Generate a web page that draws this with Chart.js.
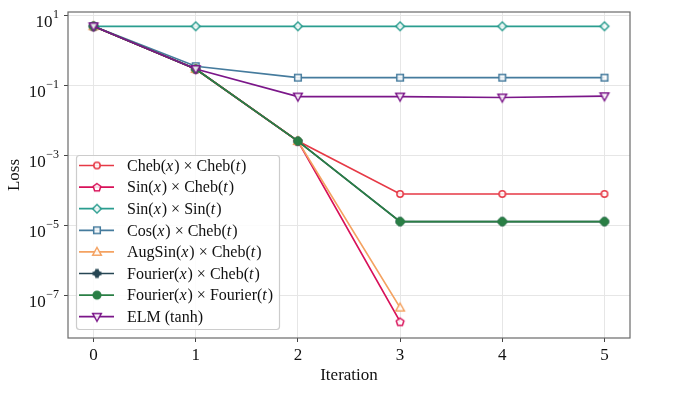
<!DOCTYPE html>
<html>
<head>
<meta charset="utf-8">
<script src="https://cdn.jsdelivr.net/npm/chart.js@4.4.1/dist/chart.umd.min.js"></script>
<style>
  html, body { margin: 0; padding: 0; background: #fff; }
  #wrap { width: 696px; height: 420px; }
</style>
</head>
<body>
<div id="wrap"><canvas id="lossChart" width="696" height="420"></canvas></div>
<script>
// iterations on the x axis
const iterations = [0, 1, 2, 3, 4, 5];
const yTickValues = [1e1, 1e-1, 1e-3, 1e-5, 1e-7];

// loss per iteration
const chebCheb = [5, 0.30, 2.6e-3, 8.0e-5, 8.0e-5, 8.0e-5];
const sinCheb = [5, 0.30, 2.6e-3, 1.8e-8];
const sinSin = [5, 5, 5, 5, 5, 5];
const cosCheb = [5, 0.36, 0.17, 0.17, 0.17, 0.17];
const augSinCheb = [5, 0.30, 2.6e-3, 4.5e-8];
const fourierCheb = [5, 0.30, 2.6e-3, 1.3e-5, 1.3e-5, 1.3e-5];
const fourierFourier = [5, 0.30, 2.6e-3, 1.3e-5, 1.3e-5, 1.3e-5];
const elmTanh = [5, 0.30, 0.049, 0.049, 0.046, 0.050];

const seriesNames = [
    'Cheb(x) × Cheb(t)',
    'Sin(x) × Cheb(t)',
    'Sin(x) × Sin(t)',
    'Cos(x) × Cheb(t)',
    'AugSin(x) × Cheb(t)',
    'Fourier(x) × Cheb(t)',
    'Fourier(x) × Fourier(t)',
    'ELM (tanh)'
];
const seriesData = [chebCheb, sinCheb, sinSin, cosCheb, augSinCheb, fourierCheb, fourierFourier, elmTanh];
const seriesColors = ['#e63946', '#d81159', '#2a9d8f', '#457b9d', '#f4a261', '#264653', '#2a7f45', '#7b1689'];
const seriesShapes = ['circle', 'pentagon', 'diamond', 'square', 'triangle', 'plus', 'dot', 'triangleDown'];

const serif = '"Liberation Serif", "DejaVu Serif", serif';

// small canvases used as point markers (matplotlib-like shapes)
function makeMarker(shape, color) {
    const c = document.createElement('canvas');
    c.width = 14; c.height = 14;
    const g = c.getContext('2d');
    const cx = 7, cy = 7;
    g.strokeStyle = color;
    g.lineWidth = 1.5;
    g.fillStyle = 'rgba(255,255,255,0.85)';
    g.beginPath();
    if (shape === 'circle') {
        g.arc(cx, cy, 3.2, 0, Math.PI * 2);
    } else if (shape === 'pentagon') {
        for (let i = 0; i < 5; i++) {
            const a = -Math.PI / 2 + i * 2 * Math.PI / 5;
            const px = cx + 4 * Math.cos(a), py = cy + 0.5 + 4 * Math.sin(a);
            if (i === 0) g.moveTo(px, py); else g.lineTo(px, py);
        }
        g.closePath();
    } else if (shape === 'diamond') {
        g.moveTo(cx, cy - 4.3); g.lineTo(cx + 4.3, cy); g.lineTo(cx, cy + 4.3); g.lineTo(cx - 4.3, cy);
        g.closePath();
    } else if (shape === 'square') {
        g.rect(cx - 3.3, cy - 3.3, 6.6, 6.6);
    } else if (shape === 'triangle') {
        g.moveTo(cx, cy - 4.5); g.lineTo(cx + 4.3, cy + 3.2); g.lineTo(cx - 4.3, cy + 3.2);
        g.closePath();
    } else if (shape === 'triangleDown') {
        g.moveTo(cx, cy + 4.5); g.lineTo(cx + 4.3, cy - 3.2); g.lineTo(cx - 4.3, cy - 3.2);
        g.closePath();
    } else if (shape === 'plus') {
        g.fillStyle = color;
        g.rect(cx - 1.8, cy - 4.5, 3.6, 9);
        g.rect(cx - 4.5, cy - 1.8, 9, 3.6);
        g.fill();
        g.beginPath();
        g.arc(cx, cy, 3.3, 0, Math.PI * 2);
    } else if (shape === 'dot') {
        g.fillStyle = color;
        g.arc(cx, cy, 3.8, 0, Math.PI * 2);
    }
    g.fill();
    if (shape !== 'plus') g.stroke();
    return c;
}

const markers = seriesShapes.map((s, i) => makeMarker(s, seriesColors[i]));

const datasets = seriesNames.map((name, i) => ({
    label: name,
    data: seriesData[i].map((v, k) => ({ x: iterations[k], y: v })),
    borderColor: seriesColors[i],
    backgroundColor: seriesColors[i],
    borderWidth: 1.7,
    pointStyle: markers[i],
    pointRadius: 4,
    tension: 0,
    order: seriesNames.length - i
}));

// y tick labels as 10 with superscript exponent
const logLabels = {
    id: 'logLabels',
    afterDraw(chart) {
        const ctx = chart.ctx;
        const y = chart.scales.y;
        ctx.save();
        ctx.fillStyle = '#111';
        ctx.textBaseline = 'alphabetic';
        yTickValues.forEach(v => {
            const py = y.getPixelForValue(v);
            const exp = String(Math.round(Math.log10(v))).replace('-', '\u2212');
            ctx.font = '12px ' + serif;
            const ew = ctx.measureText(exp).width;
            const right = 59;
            ctx.textAlign = 'right';
            ctx.fillText(exp, right, py + 2.5);
            ctx.font = '17px ' + serif;
            ctx.fillText('10', right - ew - 0.5, py + 11);
        });
        ctx.restore();
    }
};

// frame around the plot area
const frame = {
    id: 'frame',
    afterDatasetsDraw(chart) {
        const { ctx, chartArea: a } = chart;
        ctx.save();
        ctx.strokeStyle = '#6a6a6a';
        ctx.lineWidth = 1.2;
        ctx.strokeRect(a.left, a.top, a.right - a.left, a.bottom - a.top);
        ctx.restore();
    }
};

// legend box drawn inside the plot, with italic x and t
const insideLegend = {
    id: 'insideLegend',
    afterDraw(chart) {
        const ctx = chart.ctx;
        const bx = 76.5, by = 155.5, bw = 203, bh = 174;
        ctx.save();
        ctx.fillStyle = 'rgba(255,255,255,0.85)';
        ctx.strokeStyle = '#cccccc';
        ctx.lineWidth = 1.2;
        ctx.beginPath();
        ctx.roundRect(bx, by, bw, bh, 3);
        ctx.fill();
        ctx.stroke();
        seriesNames.forEach((name, i) => {
            const ry = 165.5 + i * 21.6;
            ctx.strokeStyle = seriesColors[i];
            ctx.lineWidth = 1.7;
            ctx.beginPath();
            ctx.moveTo(79, ry); ctx.lineTo(114, ry);
            ctx.stroke();
            ctx.drawImage(markers[i], 97 - 7, ry - 7);
            let tx = 127;
            ctx.fillStyle = '#111';
            ctx.textAlign = 'left';
            ctx.textBaseline = 'middle';
            name.split(/(\((?:x|t)\))/).forEach(part => {
                if (!part) return;
                const m = part.match(/^\((x|t)\)$/);
                const pieces = m ? [['(', false], [m[1], true], [')', false]] : [[part, false]];
                pieces.forEach(([txt, it]) => {
                    ctx.font = (it ? 'italic ' : '') + '16px ' + serif;
                    ctx.fillText(txt, tx, ry + 1);
                    tx += ctx.measureText(txt).width + (it ? 1 : 0);
                });
            });
        });
        ctx.restore();
    }
};

new Chart(document.getElementById('lossChart'), {
    type: 'line',
    data: { datasets },
    options: {
        responsive: false,
        animation: false,
        layout: { padding: { left: 0, top: 12, right: 66, bottom: 0 } },
        plugins: {
            legend: { display: false },
            tooltip: { enabled: false }
        },
        scales: {
            x: {
                type: 'linear',
                min: -0.25,
                max: 5.25,
                afterBuildTicks: s => { s.ticks = iterations.map(v => ({ value: v })); },
                afterFit: s => { s.height = 82; },
                grid: { color: '#e6e6e6', tickColor: '#444', tickLength: 4, lineWidth: 1 },
                border: { display: false },
                ticks: {
                    color: '#111',
                    font: { family: serif, size: 17 },
                    padding: 3,
                    callback: v => String(v)
                },
                title: {
                    display: true,
                    text: 'Iteration',
                    color: '#111',
                    font: { family: serif, size: 17 },
                    padding: { top: 0, bottom: 34 }
                }
            },
            y: {
                type: 'logarithmic',
                min: 6.1e-9,
                max: 12.8,
                afterBuildTicks: s => { s.ticks = yTickValues.map(v => ({ value: v })); },
                afterFit: s => { s.width = 68; },
                grid: { color: '#e6e6e6', tickColor: '#444', tickLength: 4, lineWidth: 1 },
                border: { display: false },
                ticks: { callback: () => '', padding: 0 },
                title: {
                    display: true,
                    text: 'Loss',
                    color: '#111',
                    font: { family: serif, size: 17 },
                    padding: { top: 4, bottom: 0 }
                }
            }
        }
    },
    plugins: [frame, logLabels, insideLegend]
});
</script>
</body>
</html>
